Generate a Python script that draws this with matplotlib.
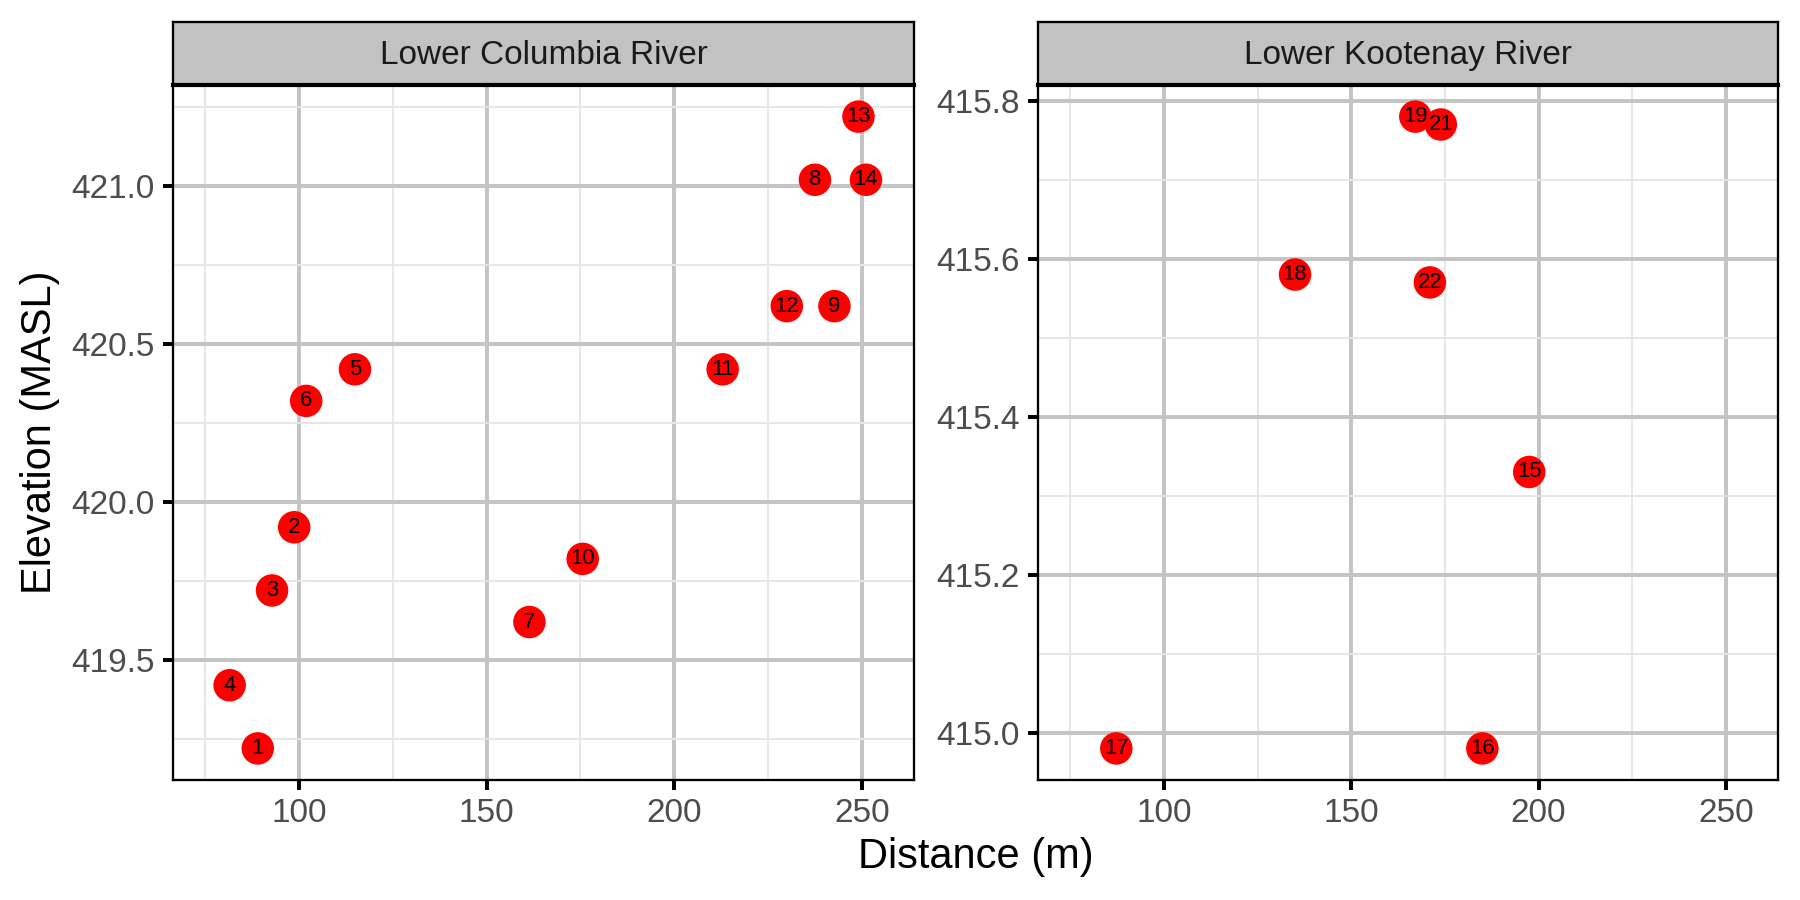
import matplotlib
matplotlib.use("Agg")
import matplotlib.pyplot as plt
from matplotlib.ticker import MultipleLocator, FormatStrFormatter

plt.rcParams['font.family'] = ['Liberation Sans', 'DejaVu Sans']

# ---- data ----
panels = ["Lower Columbia River", "Lower Kootenay River"]

col_ids = [1, 2, 3, 4, 5, 6, 7, 8, 9, 10, 11, 12, 13, 14]
col_dist = [89.0, 98.7, 92.8, 81.5, 114.9, 101.9, 161.4, 237.5, 242.7, 175.6, 212.9, 230.0, 249.1, 251.1]
col_elev = [419.22, 419.92, 419.72, 419.42, 420.42, 420.32, 419.62, 421.02, 420.62, 419.82,
            420.42, 420.62, 421.22, 421.02]

koo_ids = [15, 16, 17, 18, 19, 21, 22]
koo_dist = [197.5, 185.0, 87.3, 135.0, 167.1, 173.9, 171.0]
koo_elev = [415.33, 414.98, 414.98, 415.58, 415.78, 415.77, 415.57]

x_major = [100, 150, 200, 250]

fig = plt.figure(figsize=(6, 3), dpi=300)

W, H = 1800.0, 900.0
ax_boxes = [(173, 914), (1038, 1778)]
top_px, bot_px, strip_top = 85, 780, 21.5

datasets = [(col_ids, col_dist, col_elev, 0.5, 0.25),
            (koo_ids, koo_dist, koo_elev, 0.2, 0.1)]

for (x0, x1), title, (ids, xs, ys, ymaj, ymin) in zip(ax_boxes, panels, datasets):
    ax = fig.add_axes([x0 / W, 1 - bot_px / H, (x1 - x0) / W, (bot_px - top_px) / H])
    ax.set_xlim(66.4, 263.9)
    lo, hi = min(ys), max(ys)
    pad = (hi - lo) * 0.05
    ax.set_ylim(lo - pad, hi + pad)

    ax.xaxis.set_major_locator(MultipleLocator(50))
    ax.xaxis.set_minor_locator(MultipleLocator(25))
    ax.yaxis.set_major_locator(MultipleLocator(ymaj))
    ax.yaxis.set_minor_locator(MultipleLocator(ymin))
    ax.yaxis.set_major_formatter(FormatStrFormatter('%.1f'))
    ax.set_xticks(x_major)

    ax.grid(which='major', color='#C4C4C4', linewidth=0.95)
    ax.grid(which='minor', color='#E6E6E6', linewidth=0.45)
    ax.set_axisbelow(True)
    for s in ax.spines.values():
        s.set_color('black')
        s.set_linewidth(0.55)

    ax.tick_params(which='major', length=2.4, width=0.95, color='black',
                   labelsize=8, labelcolor='#4D4D4D', pad=2)
    ax.tick_params(which='minor', length=0)

    ax.scatter(xs, ys, s=7.8 ** 2, color='#FF0000', edgecolors='none', zorder=3)
    for i, x, y in zip(ids, xs, ys):
        ax.text(x, y, str(i), ha='center', va='center', fontsize=5.3,
                color='black', zorder=4)

    # facet strip
    sax = fig.add_axes([x0 / W, 1 - top_px / H, (x1 - x0) / W, (top_px - strip_top) / H])
    sax.set_xlim(0, 1)
    sax.set_ylim(0, 1)
    sax.set_facecolor('#C2C2C2')
    for s in sax.spines.values():
        s.set_color('black')
        s.set_linewidth(0.55)
    sax.spines['bottom'].set_linewidth(1.0)
    sax.set_xticks([])
    sax.set_yticks([])
    sax.text(0.5, 0.47, title, ha='center', va='center', fontsize=8, color='#1A1A1A')

fig.text(975.5 / W, 1 - 857 / H, "Distance (m)", ha='center', va='center', fontsize=10, color='black')
fig.text(40 / W, 1 - 432 / H, "Elevation (MASL)", ha='center', va='center', rotation=90,
         fontsize=10, color='black')

fig.savefig("out.png", dpi=300, facecolor='white')
